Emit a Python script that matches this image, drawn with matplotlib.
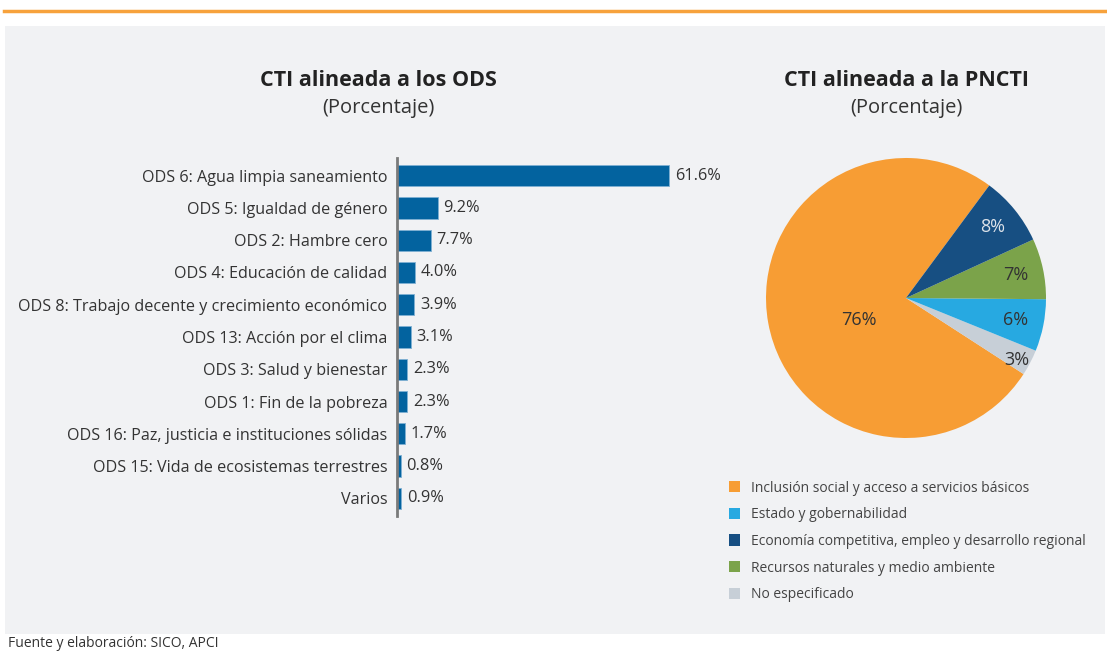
import matplotlib.pyplot as plt
from matplotlib.patches import Rectangle, Patch
from matplotlib.lines import Line2D

plt.rcParams['font.family'] = ['Open Sans', 'DejaVu Sans']

# data
ods_labels = ['ODS 6: Agua limpia saneamiento', 'ODS 5: Igualdad de género', 'ODS 2: Hambre cero',
              'ODS 4: Educación de calidad', 'ODS 8: Trabajo decente y crecimiento económico',
              'ODS 13: Acción por el clima', 'ODS 3: Salud y bienestar', 'ODS 1: Fin de la pobreza',
              'ODS 16: Paz, justicia e instituciones sólidas', 'ODS 15: Vida de ecosistemas terrestres',
              'Varios']
ods_values = [61.6, 9.2, 7.7, 4.0, 3.9, 3.1, 2.3, 2.3, 1.7, 0.8, 0.9]

# pie in drawing order (counter-clockwise from the orange slice)
pncti_labels = ['Inclusión social y acceso a servicios básicos', 'No especificado',
                'Estado y gobernabilidad', 'Recursos naturales y medio ambiente',
                'Economía competitiva, empleo y desarrollo regional']
pncti_values = [76, 3, 6, 7, 8]
pncti_colors = ['#f79d34', '#c7cfd7', '#27a9e1', '#7ba34a', '#174f82']
legend_order = [0, 2, 4, 3, 1]

W, H = 1107, 652
fig = plt.figure(figsize=(W / 100, H / 100), dpi=100)

def fx(px):
    return px / W

def fy(py):
    return 1 - py / H

# background panel and top rule
fig.patches.append(Rectangle((fx(5), fy(634)), fx(1100), 608 / H, transform=fig.transFigure,
                             facecolor='#f1f2f4', edgecolor='none', zorder=-5))
fig.lines.append(Line2D([fx(4), fx(1106)], [fy(11), fy(11)], transform=fig.transFigure,
                        color='#f7a23c', lw=2.5, zorder=-5))

txt = '#333333'

# bar chart
ax = fig.add_axes([fx(397), fy(516), 309 / W, 358 / H])
ax.set_facecolor('none')
y = list(range(len(ods_values)))
ax.barh(y, ods_values, height=0.66, color='#03639f', edgecolor='#7fb0d3', linewidth=0.6)
for yi, v in zip(y, ods_values):
    ax.text(v + 1.3, yi, f'{v:.1f}%', va='center', ha='left', fontsize=11.8, color=txt)
ax.set_yticks(y)
ax.set_yticklabels(ods_labels, fontsize=11.6, color=txt)
ax.tick_params(axis='y', length=0, pad=7)
ax.set_xticks([])
ax.set_xlim(0, 70)
ax.set_ylim(10.55, -0.55)
for s in ['top', 'right', 'bottom']:
    ax.spines[s].set_visible(False)
ax.spines['left'].set_color('#7a7a7a')
ax.spines['left'].set_linewidth(2)

fig.text(fx(378), fy(80), 'CTI alineada a los ODS', ha='center', va='center',
         fontsize=15.5, fontweight='bold', color='#222222')
fig.text(fx(378), fy(108), '(Porcentaje)', ha='center', va='center', fontsize=14.5, color=txt)

# pie chart
pax = fig.add_axes([fx(766), fy(438), 280 / W, 280 / H])
wedges, texts, autotexts = pax.pie(pncti_values, colors=pncti_colors, startangle=53.5,
                                   counterclock=True, autopct='%d%%', pctdistance=0.8,
                                   wedgeprops=dict(linewidth=0))
for i, t in enumerate(autotexts):
    t.set_fontsize(13)
    t.set_color(txt)
autotexts[0].set_position((-0.34, -0.16))
autotexts[1].set_position((0.79, -0.44))
autotexts[4].set_color('#dde3ea')
pax.set_xlim(-1, 1)
pax.set_ylim(-1, 1)

fig.text(fx(906), fy(80), 'CTI alineada a la PNCTI', ha='center', va='center',
         fontsize=15.5, fontweight='bold', color='#222222')
fig.text(fx(906), fy(108), '(Porcentaje)', ha='center', va='center', fontsize=14.5, color=txt)

handles = [Patch(facecolor=pncti_colors[i], edgecolor='none') for i in legend_order]
fig.legend(handles, [pncti_labels[i] for i in legend_order], loc='upper left',
           bbox_to_anchor=(fx(716), fy(468)), frameon=False, fontsize=10,
           handlelength=0.85, handleheight=0.85, handletextpad=0.8, labelspacing=0.84,
           labelcolor='#444444')

fig.text(fx(8), fy(651), 'Fuente y elaboración: SICO, APCI', ha='left', va='bottom',
         fontsize=10, color=txt)

fig.savefig('out.png', dpi=100)
